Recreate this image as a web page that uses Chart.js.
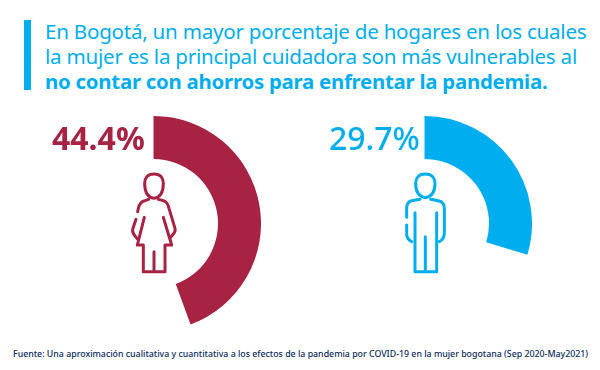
<!DOCTYPE html>
<html><head><meta charset="utf-8">
<script src="https://cdn.jsdelivr.net/npm/chart.js@4"></script>
<style>
html,body{margin:0;padding:0;background:#fff;width:600px;height:370px;overflow:hidden}
#stage{position:relative;width:600px;height:370px;font-family:"Noto Sans",sans-serif}
.abs{position:absolute;white-space:nowrap}
.head{left:45px;color:#00aeef;font-size:20.6px;letter-spacing:-0.25px;line-height:25px}
.pct{font-size:32px;line-height:36px}
canvas{display:block}
.c{position:absolute;width:215px;height:215px}
svg{position:absolute}
svg *{fill:none;stroke-width:9;stroke-linecap:round;stroke-linejoin:round}
</style></head><body>
<div id="stage">
<div class="abs" style="left:24px;top:20px;width:7px;height:70px;background:#00aeef"></div>
<div class="abs head" style="top:19px">En Bogotá, un mayor porcentaje de hogares en los cuales</div>
<div class="abs head" style="top:44px">la mujer es la principal cuidadora son más vulnerables al</div>
<div class="abs head" style="top:69px;font-weight:700;font-size:20.4px">no contar con ahorros para enfrentar la pandemia.</div>

<div class="c" style="left:46px;top:116px"><canvas id="a" width="215" height="215"></canvas></div>
<div class="c" style="left:317px;top:116px"><canvas id="b" width="215" height="215"></canvas></div>

<div class="abs pct" id="pa" style="left:52px;top:120px;font-weight:700;color:#a82244"></div>
<div class="abs pct" id="pb" style="left:329px;top:120px;font-weight:500;color:#00aeef"></div>

<svg style="left:30px;top:110px" width="250" height="220" viewBox="0 0 750 660"><g stroke="#a82244">
<path d="M372 192C352 192 344 205 344 220C344 240 350 262 372 265C395 262 400 240 400 220C400 205 392 192 372 192Z"/>
<path d="M356 268L345 272Q330 274 325 295L323 305"/>
<path d="M318 328L308 358Q306 368 315 378L322 386"/>
<path d="M385 268L400 272Q412 275 417 295L435 355Q437 365 430 372L420 384"/>
<path d="M343 322L322 405L340 405L340 485L405 485L405 405L425 405L400 322"/>
<path d="M372 425L372 482"/>
</g></svg>
<svg style="left:310px;top:110px" width="250" height="220" viewBox="0 0 750 660"><g stroke="#00aeef">
<path d="M346 192C326 192 317 205 317 220C317 240 323 260 346 263C370 260 375 240 375 220C375 205 366 192 346 192Z"/>
<path d="M330 268L305 272Q290 275 290 295L290 322"/>
<path d="M290 345L290 375Q292 388 305 395"/>
<path d="M362 268L385 272Q403 275 403 295L403 370Q402 388 388 395"/>
<path d="M315 308L315 485L380 485L380 308"/>
<path d="M346 380L346 482"/>
</g></svg>

<div class="abs" style="left:13px;top:348px;font-size:8.8px;line-height:13px;font-weight:500;color:#0b2c5c">Fuente: Una aproximación cualitativa y cuantitativa a los efectos de la pandemia por COVID-19 en la mujer bogotana (Sep 2020-May2021)</div>
</div>
<script>
const categories = ["Mujer principal cuidadora", "Hombre principal cuidador"];
const sinAhorros = [44.4, 29.7];
const colores = ["#a82244", "#00aeef"];
const total = 100;

function dona(id, i) {
  new Chart(document.getElementById(id), {
    type: "doughnut",
    data: {
      labels: [categories[i], "Resto"],
      datasets: [{
        data: [sinAhorros[i], total - sinAhorros[i]],
        backgroundColor: [colores[i], "rgba(0,0,0,0)"],
        borderWidth: 0
      }]
    },
    options: {
      responsive: false,
      animation: false,
      cutout: "60%",
      rotation: 0,
      layout: { padding: 0 },
      plugins: { legend: { display: false }, tooltip: { enabled: false } }
    }
  });
}
dona("a", 0);
dona("b", 1);
document.getElementById("pa").textContent = sinAhorros[0].toFixed(1) + "%";
document.getElementById("pb").textContent = sinAhorros[1].toFixed(1) + "%";
</script>
</body></html>
